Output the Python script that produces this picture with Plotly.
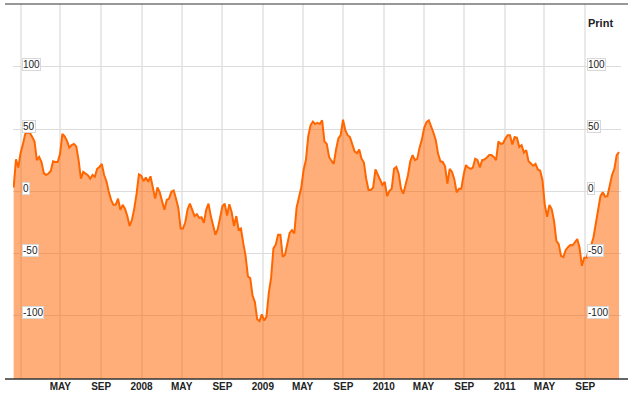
import pandas as pd
import plotly.graph_objects as go

# ---- data (weekly readings) ----
start_date = "2006-12-11"
freq = "7D"
values = [
    3, 25.7, 19, 31, 38, 46, 47, 47, 43.5, 40,
    25, 27.5, 23.5, 14.5, 13, 14.2, 16.3, 24, 23.5, 23.5,
    30, 46, 44, 40.5, 35, 37, 38, 36, 25, 10,
    15.5, 14, 12.8, 10, 13, 11.5, 18, 19.5, 22, 13,
    8, -0.5, -7, -11, -11, -6, -15, -11, -14, -20,
    -28, -23, -14, -2, 13.5, 12.5, 8, 11, 7.5, 12,
    3, -6, 3, -1, -8, -15, -7, -6, -0.5, 0.5,
    -6, -13.5, -30, -30, -25, -14.5, -10, -15, -20, -18.5,
    -21.5, -21, -25.5, -15, -10, -20, -28.5, -35, -30.5, -21,
    -12, -10, -19.5, -10.5, -17, -28, -20, -31, -30, -42,
    -52, -68.5, -70, -84, -89, -103, -104.5, -99, -104, -101,
    -82, -69.5, -46, -43, -35, -35, -52.7, -51, -42, -33.5,
    -31.3, -34, -13, -6, 3, 17, 25, 44, 53, 56,
    54, 55, 54, 57, 40, 38, 27.5, 24.5, 22, 33.5,
    42.5, 45, 57.5, 49, 45, 43.5, 37, 32, 30.5, 33.5,
    26, 23, 10, 1, 1, 3, 17.5, 13, 8.8, 5,
    7.5, -4, 0, 2, 18, 19.5, 14, 2, -2, 6,
    12.8, 24, 29, 25, 26, 35, 41.5, 51, 55.6, 57,
    52.5, 47, 41, 30, 24, 23.5, 20, 6, 18, 15.5,
    9.5, -1, 2, 2, 13, 21, 19, 18, 19, 26,
    25, 19, 25, 25.5, 27, 29, 29, 27.5, 25, 40,
    38, 38.5, 42.3, 45, 45, 37.5, 43.5, 43, 35.5, 37,
    31, 33, 24, 22.5, 20.5, 22, 17.5, 16.5, 9, -11,
    -20.6, -11, -14.5, -24, -40, -42.5, -52, -53, -47.5, -45,
    -43.3, -43.5, -41, -38.5, -45.5, -60, -53.5, -53.5, -48, -43.5,
    -37, -27, -16.5, -4, -0.8, -4.3, -4, 5, 13, 18,
    29, 31.5,
]
dates = pd.date_range(start_date, periods=len(values), freq=freq)

x_tick_dates = [
    "2007-01-01", "2007-05-01", "2007-09-01", "2008-01-01", "2008-05-01",
    "2008-09-01", "2009-01-01", "2009-05-01", "2009-09-01", "2010-01-01",
    "2010-05-01", "2010-09-01", "2011-01-01", "2011-05-01", "2011-09-01",
]
x_tick_labels = [
    "", "MAY", "SEP", "2008", "MAY", "SEP", "2009", "MAY", "SEP", "2010",
    "MAY", "SEP", "2011", "MAY", "SEP",
]
y_ticks = [100, 50, 0, -50, -100]

# ---- styling ----
Y_MIN, Y_MAX = -151, 150.5
X_RANGE = ["2006-12-09", "2011-12-18"]
LINE = "#FF6600"
FILL = "rgba(255,100,0,0.52)"
FONT = "Arial, Liberation Sans, sans-serif"

fig = go.Figure()
fig.add_trace(go.Scatter(
    x=dates, y=[Y_MIN] * len(values), mode="lines",
    line=dict(width=0), hoverinfo="skip", showlegend=False,
))
fig.add_trace(go.Scatter(
    x=dates, y=values, mode="lines", fill="tonexty", fillcolor=FILL,
    line=dict(color=LINE, width=2), showlegend=False,
))

W, H = 631, 397
ml, mr, mt, mb = 13, 10, 4, 18
pw = W - ml - mr

fig.update_layout(
    width=W, height=H,
    margin=dict(l=ml, r=mr, t=mt, b=mb),
    paper_bgcolor="white", plot_bgcolor="white",
    xaxis=dict(
        range=X_RANGE, tickvals=x_tick_dates,
        ticktext=[f"<b>{t}</b>" if t else "" for t in x_tick_labels],
        showgrid=True, gridcolor="#e9e9e9", gridwidth=2,
        ticks="", showline=False, zeroline=False,
        tickfont=dict(family=FONT, size=10, color="#222"),
        tickangle=0,
    ),
    yaxis=dict(
        range=[Y_MIN, Y_MAX], tickvals=y_ticks, showticklabels=False,
        showgrid=True, gridcolor="#dcdcdc", gridwidth=1,
        zeroline=False, showline=False, ticks="",
    ),
)

# top and bottom border lines
for yv in (1, 0):
    fig.add_shape(
        type="line", xref="paper", yref="paper",
        x0=(5 - ml) / pw, x1=(628 - ml) / pw, y0=yv, y1=yv,
        line=dict(color="#333333", width=1.5 if yv == 0 else 1.2),
        layer="above",
    )

# y labels (inside, boxed) on both sides
for v in y_ticks:
    for xp in ((22 - ml) / pw, (587 - ml) / pw):
        fig.add_annotation(
            x=xp, xref="paper", y=v + 2.2, yref="y",
            text=str(v), showarrow=False, xanchor="left", yanchor="middle",
            font=dict(family=FONT, size=10, color="#222"),
            bgcolor="white", bordercolor="#d8d8d8", borderwidth=1, borderpad=0,
        )

fig.add_annotation(
    x=(586 - ml) / pw, xref="paper", y=1 - (22.7 - mt) / (H - mt - mb), yref="paper",
    text="<b>Print</b>", showarrow=False, xanchor="left", yanchor="middle",
    font=dict(family=FONT, size=11, color="#222"),
)

fig.write_html(
    "out.html",
    config={"displayModeBar": False},
    post_script="document.body.style.margin='0';",
)
